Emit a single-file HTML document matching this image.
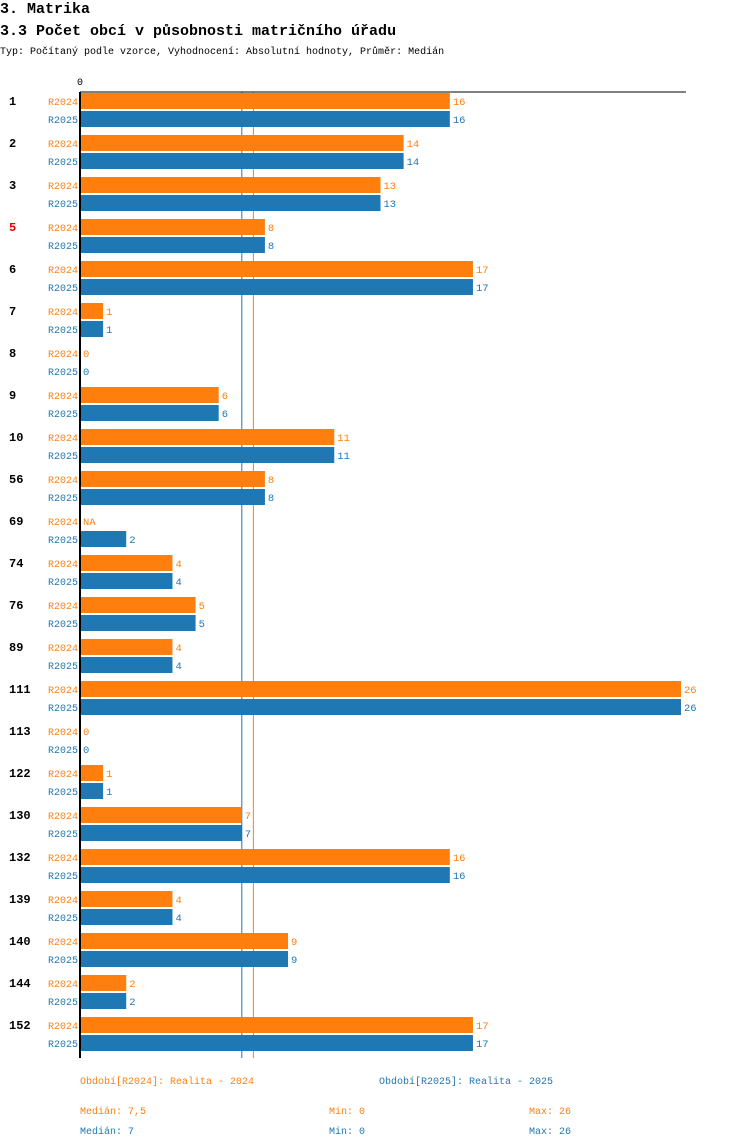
<!DOCTYPE html>
<html><head><meta charset="utf-8"><style>
body{margin:0;background:#fff}
svg{display:block;font-family:"Liberation Mono","DejaVu Sans Mono",monospace}
</style></head><body>
<svg id="chart" width="750" height="1148">
<text x="0" y="13" font-size="15" font-weight="bold">3. Matrika</text>
<text x="0" y="35" font-size="15" font-weight="bold">3.3 Počet obcí v působnosti matričního úřadu</text>
<text x="0" y="54" font-size="10">Typ: Počítaný podle vzorce, Vyhodnocení: Absolutní hodnoty, Průměr: Medián</text>
<text x="77" y="85" font-size="10">0</text>
<g id="medians"></g>
<g id="bars"></g>
<line x1="80" y1="92" x2="686" y2="92" stroke="#000" stroke-width="1"/>
<line x1="80" y1="92" x2="80" y2="1058" stroke="#000" stroke-width="2"/>
<g font-size="10">
<text x="80" y="1084" fill="#ff7f0e">Období[R2024]: Realita - 2024</text>
<text x="379" y="1084" fill="#1f77b4">Období[R2025]: Realita - 2025</text>
<text x="80" y="1114" fill="#ff7f0e">Medián: 7,5</text>
<text x="329" y="1114" fill="#ff7f0e">Min: 0</text>
<text x="529" y="1114" fill="#ff7f0e">Max: 26</text>
<text x="80" y="1134" fill="#1f77b4">Medián: 7</text>
<text x="329" y="1134" fill="#1f77b4">Min: 0</text>
<text x="529" y="1134" fill="#1f77b4">Max: 26</text>
</g>
</svg>
<script>
const categories=["1","2","3","5","6","7","8","9","10","56","69","74","76","89","111","113","122","130","132","139","140","144","152"];
const values2024=[16,14,13,8,17,1,0,6,11,8,null,4,5,4,26,0,1,7,16,4,9,2,17];
const values2025=[16,14,13,8,17,1,0,6,11,8,2,4,5,4,26,0,1,7,16,4,9,2,17];
const medians=[7.5,7];
const seriesNames=["R2024","R2025"];
const highlighted=["5"];
const colors=["#ff7f0e","#1f77b4"];
const NS="http://www.w3.org/2000/svg";
const x0=80,xMax=26,xEnd=681;
const xs=v=>x0+v*(xEnd-x0)/xMax;
const g=document.getElementById('bars');
function mk(t,a){const e=document.createElementNS(NS,t);for(const k in a)e.setAttribute(k,a[k]);return e;}
categories.forEach((c,i)=>{
  const gy=93+42*i;
  const lab=mk('text',{x:9,y:gy+12,'font-size':12,'font-weight':'bold',fill:highlighted.includes(c)?'#e00':'#000'});
  
  
  lab.textContent=c;g.appendChild(lab);
  [values2024[i],values2025[i]].forEach((v,s)=>{
    const y=gy+18*s;
    const sl=mk('text',{x:78,y:y+12,'font-size':10,'text-anchor':'end',fill:colors[s]});
    
    
    sl.textContent=seriesNames[s];g.appendChild(sl);
    const w=v==null?0:xs(v)-x0;
    if(w>0){const r=mk('rect',{x:x0,y:y,width:w,height:16,fill:colors[s]});
      
      
      g.appendChild(r);}
    const vt=mk('text',{x:x0+w+3,y:y+12,'font-size':10.5,fill:colors[s]});
    
    
    vt.textContent=v==null?'NA':v;g.appendChild(vt);
  });
});
const mg=document.getElementById('medians');
[1,0].forEach(s=>{
  const l=mk('line',{x1:xs(medians[s]),x2:xs(medians[s]),y1:92,y2:1058,stroke:colors[s],'stroke-width':1});
  
  
  mg.appendChild(l);
});
</script>
</body></html>
